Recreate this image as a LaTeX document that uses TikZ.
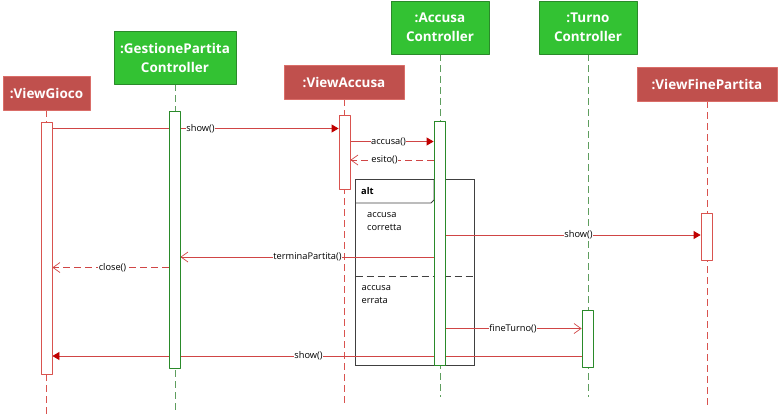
\documentclass[tikz,border=0pt]{standalone}
\usepackage{fontspec}
\setmainfont{Open Sans}
\usetikzlibrary{arrows.meta,backgrounds}
\definecolor{redbox}{HTML}{C0504D}
\definecolor{rededge}{HTML}{DA6D68}
\definecolor{greenbox}{HTML}{33C233}
\definecolor{greenedge}{HTML}{2A8A2A}
\definecolor{redlife}{HTML}{D9534F}
\definecolor{greenlife}{HTML}{5E9E5E}
\definecolor{msgline}{HTML}{D04545}
\definecolor{msgtip}{HTML}{C00000}
\definecolor{framegray}{HTML}{404040}
\tikzset{
  head/.style={font=\bfseries\fontsize{13.5}{19}\selectfont,text=white,align=center,inner sep=0pt},
  redhead/.style={head,fill=redbox,draw=rededge,line width=0.8bp},
  greenhead/.style={head,fill=greenbox,draw=greenedge,line width=0.8bp},
  redlifeline/.style={draw=redlife,line width=0.8bp,dash pattern=on 7bp off 4bp},
  greenlifeline/.style={draw=greenlife,line width=0.8bp,dash pattern=on 7bp off 4bp},
  actbox/.style={rectangle,fill=white,inner sep=0pt,minimum width=11bp,line width=0.8bp},
  redact/.style={actbox,draw=redlife},
  greenact/.style={actbox,draw=greenedge},
  msg/.style={draw=msgline,line width=0.8bp,-{Triangle[length=7bp,width=8bp,fill=msgtip,color=msgtip]}},
  opmsg/.style={draw=msgline,line width=0.8bp,-{Straight Barb[length=7bp,width=10bp,line width=0.7bp]}},
  retmsg/.style={opmsg,dash pattern=on 7bp off 4bp},
  lbl/.style={font=\fontsize{9.3}{11}\selectfont,fill=white,inner sep=0.4bp},
  note/.style={font=\fontsize{9.3}{13}\selectfont,align=left,inner sep=0pt,anchor=west},
}
\begin{document}
\begin{tikzpicture}[x=1bp,y=-1bp,line join=bevel]
\useasboundingbox (0,0) rectangle (778,417);
%%
\node (node_vg) at (46.5,93) [redhead,minimum width=87bp,minimum height=34bp] {:ViewGioco};
\node (node_gp) at (175,57.5) [greenhead,minimum width=122bp,minimum height=53bp] {:GestionePartita\\Controller};
\node (node_va) at (344,82) [redhead,minimum width=120bp,minimum height=34bp] {:ViewAccusa};
\node (node_ac) at (440,27.5) [greenhead,minimum width=98bp,minimum height=53bp] {:Accusa\\Controller};
\node (node_tc) at (588,27.5) [greenhead,minimum width=98bp,minimum height=53bp] {:Turno\\Controller};
\node (node_vf) at (707,84) [redhead,minimum width=140bp,minimum height=34bp] {:ViewFinePartita};
%
\node (node_act_vg) at (46.5,248) [redact,minimum height=252bp] {};
\node (node_act_gp) at (174.5,239.5) [greenact,minimum height=257bp] {};
\node (node_act_va) at (344.5,152) [redact,minimum height=74bp] {};
\node (node_act_ac) at (439.5,243) [greenact,minimum height=244bp] {};
\node (node_act_tc) at (587.5,338.5) [greenact,minimum height=57bp] {};
\node (node_act_vf) at (706.5,236.5) [redact,minimum height=47bp] {};
%
\coordinate (end_vg) at (46.5,417);
\coordinate (end_gp) at (175,414);
\coordinate (end_va) at (344,405);
\coordinate (end_ac) at (440,397);
\coordinate (end_tc) at (588,397);
\coordinate (end_vf) at (707,407);
\coordinate (row_1) at (0,128.5);
\coordinate (row_2) at (0,141.5);
\coordinate (row_3) at (0,160);
\coordinate (row_4) at (0,235);
\coordinate (row_5) at (0,257);
\coordinate (row_6) at (0,267.5);
\coordinate (row_7) at (0,328.5);
\coordinate (row_8) at (0,356);
%
\begin{pgfonlayer}{background}
\draw [redlifeline] (node_vg.south) -- (end_vg);
\draw [greenlifeline] (node_gp.south) -- (end_gp);
\draw [redlifeline] (node_va.south) -- (end_va);
\draw [greenlifeline] (node_ac.south) -- (end_ac);
\draw [greenlifeline] (node_tc.south) -- (end_tc);
\draw [redlifeline] (node_vf.south) -- (end_vf);
%
\draw [framegray,line width=0.8bp] (355.5,179.5) rectangle (474.5,365);
\draw [framegray,line width=0.8bp] (355.5,203) -- (431,203) -- (434,200) -- (434,179.5);
\draw [framegray,line width=0.8bp,dash pattern=on 7bp off 4bp] (355.5,276) -- (474.5,276);
%
\draw [msg] (node_act_vg.east |- row_1) -- (node_act_va.west |- row_1);
\draw [msg] (node_act_va.east |- row_2) -- (node_act_ac.west |- row_2);
\draw [retmsg] (node_act_ac.west |- row_3) -- (node_act_va.east |- row_3);
\draw [msg] (node_act_ac.east |- row_4) -- (node_act_vf.west |- row_4);
\draw [opmsg] (node_act_ac.west |- row_5) -- (node_act_gp.east |- row_5);
\draw [retmsg] (node_act_gp.west |- row_6) -- (node_act_vg.east |- row_6);
\draw [opmsg] (node_act_ac.east |- row_7) -- (node_act_tc.west |- row_7);
\draw [msg] (node_act_tc.west |- row_8) -- (node_act_vg.east |- row_8);
\end{pgfonlayer}
%
\node (lbl_show_1) at (200.5,128.5) [lbl] {show()};
\node (lbl_accusa) at (388.5,141.5) [lbl] {accusa()};
\node (lbl_esito) at (384.5,160) [lbl] {esito()};
\node (lbl_show_2) at (578.5,235) [lbl] {show()};
\node (lbl_termina) at (307.5,257) [lbl] {terminaPartita()};
\node (lbl_close) at (112.5,267.5) [lbl] {close()};
\node (lbl_fine) at (513,328.5) [lbl] {fineTurno()};
\node (lbl_show_3) at (308.5,356) [lbl] {show()};
%
\node (node_alt) at (361,191.5) [note,font=\bfseries\fontsize{9.3}{11}\selectfont] {alt};
\node (node_ok) at (367,221.5) [note] {accusa\\corretta};
\node (node_ko) at (361.5,294.5) [note] {accusa\\errata};
%
\end{tikzpicture}
\end{document}
